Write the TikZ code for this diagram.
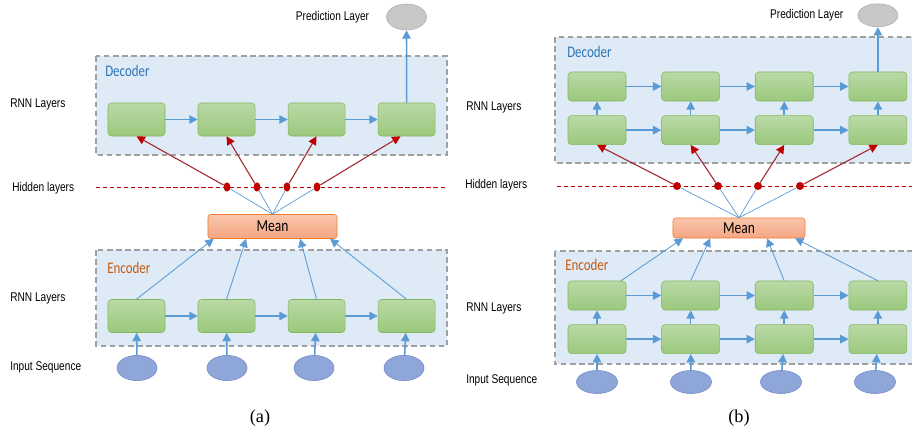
\documentclass[tikz,border=0pt]{standalone}
\usepackage{fontspec}
\setmainfont{Liberation Serif}
\newfontfamily\labelfont[FakeStretch=0.8]{Liberation Sans}
\newfontfamily\boxfont[FakeStretch=0.8]{Carlito}
\usepackage{xcolor}
\usetikzlibrary{positioning,shapes.geometric,arrows.meta}

\definecolor{boxblue}{RGB}{222,234,246}
\definecolor{boxline}{RGB}{160,160,160}
\definecolor{celltop}{RGB}{186,217,166}
\definecolor{cellbot}{RGB}{155,200,125}
\definecolor{cellline}{RGB}{130,185,95}
\definecolor{meantop}{RGB}{250,198,172}
\definecolor{meanbot}{RGB}{244,166,130}
\definecolor{meanline}{RGB}{237,125,49}
\definecolor{inputfill}{RGB}{143,166,216}
\definecolor{inputline}{RGB}{110,135,200}
\definecolor{predfill}{RGB}{200,200,200}
\definecolor{predline}{RGB}{172,172,172}
\definecolor{flowblue}{RGB}{91,155,213}
\definecolor{hiddenred}{RGB}{192,0,0}
\definecolor{linkred}{RGB}{165,45,55}
\definecolor{decblue}{RGB}{46,117,182}
\definecolor{encorange}{RGB}{197,90,17}

\tikzset{
  groupbox/.style={draw=boxline, fill=boxblue, dash pattern=on 4pt off 2.5pt, line width=0.9pt},
  hiddenline/.style={draw=hiddenred, dash pattern=on 3pt off 2pt, line width=0.6pt},
  cella/.style={rectangle, rounded corners=2.5pt, draw=cellline, top color=celltop, bottom color=cellbot, minimum width=1.425cm, minimum height=0.825cm, inner sep=0pt},
  cellb/.style={cella, minimum width=1.45cm, minimum height=0.725cm},
  meanbox/.style={rectangle, rounded corners=2pt, draw=meanline, top color=meantop, bottom color=meanbot, inner sep=0pt, font=\boxfont\fontsize{12}{14}\selectfont},
  inputnode/.style={ellipse, draw=inputline, fill=inputfill, minimum width=1cm, minimum height=0.63cm, inner sep=0pt},
  prednode/.style={ellipse, draw=predline, fill=predfill, minimum width=1cm, minimum height=0.65cm, inner sep=0pt},
  hiddot/.style={ellipse, fill=hiddenred, minimum width=0.17cm, minimum height=0.23cm, inner sep=0pt},
  rowlabel/.style={anchor=west, inner sep=0pt, font=\labelfont\fontsize{9}{11}\selectfont},
  predlabel/.style={inner sep=0pt, font=\labelfont\fontsize{9}{11}\selectfont},
  grouptitle/.style={anchor=west, inner sep=0pt, font=\boxfont\fontsize{11.5}{13}\selectfont},
  flow/.style={-{Triangle[length=6pt,width=6pt]}, draw=flowblue, line width=1.1pt},
  thinflow/.style={-{Triangle[length=6pt,width=6pt]}, draw=flowblue, line width=0.6pt},
  fanline/.style={draw=flowblue, line width=0.5pt},
  redlink/.style={-{Triangle[length=6pt,width=6pt,color=hiddenred]}, draw=linkred, line width=0.8pt}
}

\begin{document}
\begin{tikzpicture}[x=0.025cm, y=-0.025cm, node distance=2.25cm]
\useasboundingbox (0,0) rectangle (912,432);

\draw[groupbox] (96,56) rectangle (447,155);
\draw[groupbox] (96,250) rectangle (447,346);
\draw[groupbox] (555,37) rectangle (918,163);
\draw[groupbox] (555,251) rectangle (918,364);
\draw[hiddenline] (96,187) -- (447,187);
\draw[hiddenline] (557,186) -- (912,186);

\node (deca) [grouptitle, text=decblue] at (105,71) {Decoder};
\node (enca) [grouptitle, text=encorange] at (107,268) {Encoder};
\node (decb) [grouptitle, text=decblue] at (567,52) {Decoder};
\node (encb) [grouptitle, text=encorange] at (565,265) {Encoder};

\node (rnnda) [rowlabel] at (10,104) {RNN Layers};
\node (hida) [rowlabel] at (12,188) {Hidden layers};
\node (rnnea) [rowlabel] at (10,298) {RNN Layers};
\node (inpa) [rowlabel] at (10,367) {Input Sequence};
\node (rnndb) [rowlabel] at (466,107) {RNN Layers};
\node (hidb) [rowlabel] at (465,185) {Hidden layers};
\node (rnneb) [rowlabel] at (466,308) {RNN Layers};
\node (inpb) [rowlabel] at (466,380) {Input Sequence};

\node (da1) [cella] at (136.5,119.5) {};
\node (da2) [cella, right of=da1] {};
\node (da3) [cella, right of=da2] {};
\node (da4) [cella, right of=da3] {};
\node (pa) [prednode] at (406.5,17) {};
\node (pla) [predlabel, left=0.42cm of pa] {Prediction Layer};

\node (ha1) [hiddot] at (227,187) {};
\node (ha2) [hiddot] at (257,187) {};
\node (ha3) [hiddot] at (287,187) {};
\node (ha4) [hiddot] at (317,187) {};
\node (ma) [meanbox, minimum width=3.225cm, minimum height=0.6cm] at (272.5,226.5) {Mean};

\node (ea1) [cella] at (136.5,316) {};
\node (ea2) [cella, right of=ea1] {};
\node (ea3) [cella, right of=ea2] {};
\node (ea4) [cella, right of=ea3] {};
\node (ia1) [inputnode] at (137,368) {};
\node (ia2) [inputnode] at (227,368) {};
\node (ia3) [inputnode] at (314,368) {};
\node (ia4) [inputnode] at (404,368) {};

\draw[flow] (da1) -- (da2);
\draw[flow] (da2) -- (da3);
\draw[flow] (da3) -- (da4);
\draw[flow] (da4) -- (pa);
\draw[flow] (ea1) -- (ea2);
\draw[flow] (ea2) -- (ea3);
\draw[flow] (ea3) -- (ea4);
\draw[flow] (ia1) -- (ea1);
\draw[flow] (ia2) -- (ea2);
\draw[flow] (ia3) -- (ea3);
\draw[flow] (ia4) -- (ea4);
\draw[thinflow] (ea1.north) -- ([xshift=-1.47cm]ma.south);
\draw[thinflow] (ea2.north) -- ([xshift=-0.66cm]ma.south);
\draw[thinflow] (ea3.north) -- ([xshift=0.69cm]ma.south);
\draw[thinflow] (ea4.north) -- ([xshift=1.44cm]ma.south);
\draw[fanline] (ma.north) -- (ha1);
\draw[fanline] (ma.north) -- (ha2);
\draw[fanline] (ma.north) -- (ha3);
\draw[fanline] (ma.north) -- (ha4);
\draw[redlink] (ha1) -- (da1.south);
\draw[redlink] (ha2) -- (da2.south);
\draw[redlink] (ha3) -- (da3.south);
\draw[redlink] (ha4) -- ([xshift=-0.15cm]da4.south);

\node (dbt1) [cellb] at (597,86.5) {};
\node (dbt2) [cellb, node distance=2.34cm, right of=dbt1] {};
\node (dbt3) [cellb, node distance=2.34cm, right of=dbt2] {};
\node (dbt4) [cellb, node distance=2.34cm, right of=dbt3] {};
\node (dbb1) [cellb, node distance=1.09cm, below of=dbt1] {};
\node (dbb2) [cellb, node distance=1.09cm, below of=dbt2] {};
\node (dbb3) [cellb, node distance=1.09cm, below of=dbt3] {};
\node (dbb4) [cellb, node distance=1.09cm, below of=dbt4] {};
\node (pb) [prednode, minimum height=0.575cm, node distance=1.78cm, above of=dbt4] {};
\node (plb) [predlabel, left=0.35cm of pb] {Prediction Layer};

\node (hb1) [hiddot, minimum width=0.2cm, minimum height=0.2cm] at (677,186) {};
\node (hb2) [hiddot, minimum width=0.2cm, minimum height=0.2cm] at (718,186) {};
\node (hb3) [hiddot, minimum width=0.2cm, minimum height=0.2cm] at (758,186) {};
\node (hb4) [hiddot, minimum width=0.2cm, minimum height=0.2cm] at (800,186) {};
\node (mb) [meanbox, minimum width=3.3cm, minimum height=0.5cm] at (739,228) {Mean};

\node (ebt1) [cellb] at (597,295.5) {};
\node (ebt2) [cellb, node distance=2.34cm, right of=ebt1] {};
\node (ebt3) [cellb, node distance=2.34cm, right of=ebt2] {};
\node (ebt4) [cellb, node distance=2.34cm, right of=ebt3] {};
\node (ebb1) [cellb, node distance=1.09cm, below of=ebt1] {};
\node (ebb2) [cellb, node distance=1.09cm, below of=ebt2] {};
\node (ebb3) [cellb, node distance=1.09cm, below of=ebt3] {};
\node (ebb4) [cellb, node distance=1.09cm, below of=ebt4] {};
\node (ib1) [inputnode, minimum width=1.025cm, minimum height=0.575cm] at (597,382) {};
\node (ib2) [inputnode, minimum width=1.025cm, minimum height=0.575cm] at (691,382) {};
\node (ib3) [inputnode, minimum width=1.025cm, minimum height=0.575cm] at (781,382) {};
\node (ib4) [inputnode, minimum width=1.025cm, minimum height=0.575cm] at (875,382) {};

\draw[flow] (dbt1) -- (dbt2);
\draw[flow] (dbt2) -- (dbt3);
\draw[flow] (dbt3) -- (dbt4);
\draw[flow] (dbb1) -- (dbb2);
\draw[flow] (dbb2) -- (dbb3);
\draw[flow] (dbb3) -- (dbb4);
\draw[flow] (dbb1) -- (dbt1);
\draw[flow] (dbb2) -- (dbt2);
\draw[flow] (dbb3) -- (dbt3);
\draw[flow] (dbb4) -- (dbt4);
\draw[flow] (dbt4) -- (pb);
\draw[flow] (ebt1) -- (ebt2);
\draw[flow] (ebt2) -- (ebt3);
\draw[flow] (ebt3) -- (ebt4);
\draw[flow] (ebb1) -- (ebb2);
\draw[flow] (ebb2) -- (ebb3);
\draw[flow] (ebb3) -- (ebb4);
\draw[flow] (ebb1) -- (ebt1);
\draw[flow] (ebb2) -- (ebt2);
\draw[flow] (ebb3) -- (ebt3);
\draw[flow] (ebb4) -- (ebt4);
\draw[flow] (ib1) -- (ebb1);
\draw[flow] (ib2) -- (ebb2);
\draw[flow] (ib3) -- (ebb3);
\draw[flow] (ib4) -- (ebb4);
\draw[thinflow] ([xshift=0.6cm]ebt1.north) -- ([xshift=-1.4cm]mb.south);
\draw[thinflow] (ebt2.north) -- ([xshift=-0.72cm]mb.south);
\draw[thinflow] (ebt3.north) -- ([xshift=0.7cm]mb.south);
\draw[thinflow] (ebt4.north) -- ([xshift=1.4cm]mb.south);
\draw[fanline] (mb.north) -- (hb1);
\draw[fanline] (mb.north) -- (hb2);
\draw[fanline] (mb.north) -- (hb3);
\draw[fanline] (mb.north) -- (hb4);
\draw[redlink] (hb1) -- (dbb1.south);
\draw[redlink] (hb2) -- (dbb2.south);
\draw[redlink] (hb3) -- (dbb3.south);
\draw[redlink] (hb4) -- (dbb4.south);

\node (capa) [font=\fontsize{13}{15}\selectfont] at (260,418) {(a)};
\node (capb) [font=\fontsize{13}{15}\selectfont] at (739,418) {(b)};

\end{tikzpicture}
\end{document}
